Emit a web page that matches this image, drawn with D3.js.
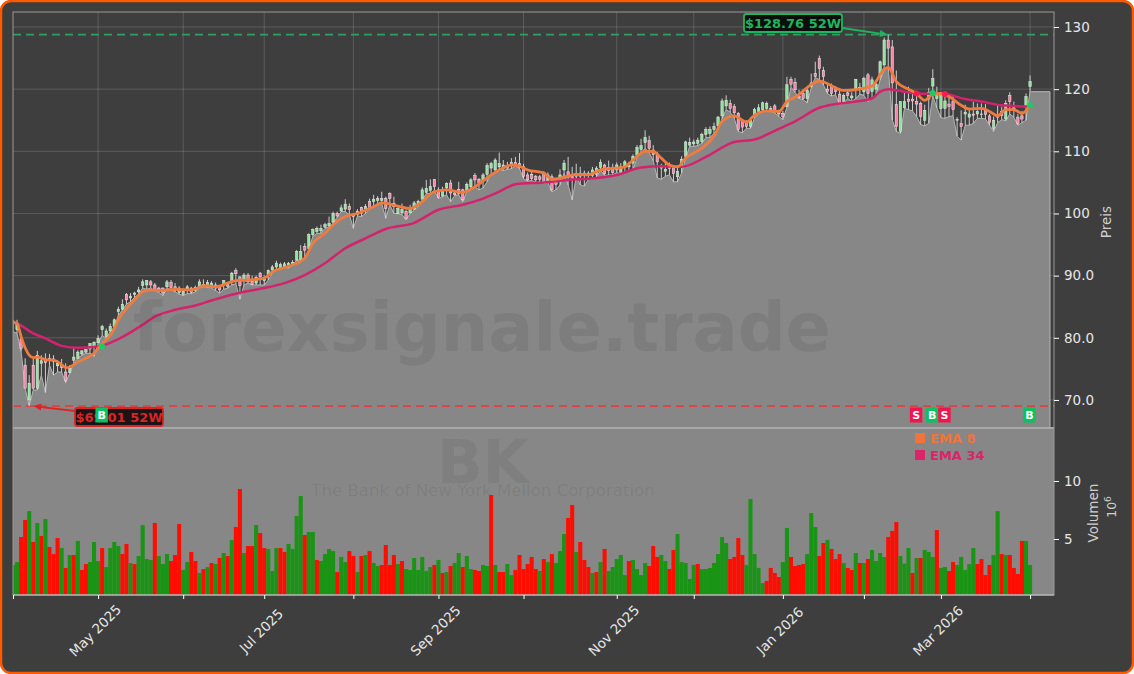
<!DOCTYPE html>
<html>
<head>
<meta charset="utf-8">
<script src="https://cdn.jsdelivr.net/npm/d3@7"></script>
<style>
  html, body { margin: 0; background: #fff; }
  svg { display: block; font-family: "DejaVu Sans", sans-serif; }
</style>
</head>
<body>
<svg width="1134" height="674"></svg>
<script>
// daily candles, April 2025 - April 2026 (one entry per trading day)
const opens = [
  82.7,81.3,79.8,75.6,70.0,75.6,71.9,75.9,76.4,76.4,76.6,75.5,75.6,74.5,74.4,76.4,76.7,77.4,77.7,78.2,
  78.6,79.2,81.3,80.2,81.1,81.8,84.2,84.6,87.0,86.4,87.0,87.4,88.4,88.5,89.0,88.5,88.0,88.0,88.2,88.9,
  88.2,87.3,87.0,87.7,88.0,87.6,88.2,88.3,88.3,88.2,88.5,88.2,88.5,88.6,89.0,90.8,89.8,89.2,90.1,89.1,
  88.8,90.4,89.2,90.0,90.9,91.4,91.3,91.4,91.5,91.7,92.5,92.6,94.7,94.4,96.6,97.1,97.2,97.8,98.0,98.6,
  100.0,100.4,100.7,101.1,99.8,99.8,101.0,100.6,101.9,101.9,102.1,102.1,102.4,103.2,101.6,100.0,100.1,100.3,100.1,100.7,
  101.4,102.3,103.4,103.7,105.5,103.8,102.8,104.1,104.9,103.3,103.9,103.8,103.7,104.3,106.1,105.5,105.3,106.3,107.3,107.0,
  107.5,107.2,107.7,107.7,108.2,108.0,107.5,106.2,106.3,106.0,105.9,106.6,105.2,105.9,105.4,105.5,107.0,106.7,106.0,106.4,
  106.5,106.5,106.2,106.1,106.3,107.4,107.8,107.4,107.4,107.0,106.6,107.5,107.5,108.1,109.3,110.3,111.4,111.7,110.2,109.5,
  107.7,106.8,107.8,107.4,105.9,107.4,109.2,111.0,111.2,111.3,111.6,112.7,112.9,113.5,114.1,115.7,117.3,117.7,117.2,116.1,
  115.0,114.8,114.0,115.8,116.4,116.7,116.9,116.9,117.3,116.0,116.1,117.2,121.6,121.1,118.9,119.3,118.5,120.4,122.5,124.9,
  123.0,120.0,120.5,120.3,119.2,118.0,119.4,118.6,120.0,120.0,119.6,122.3,119.6,120.0,122.0,123.9,127.9,126.8,117.5,113.2,
  117.0,118.4,118.4,118.0,117.7,115.0,118.4,120.5,118.5,116.9,116.9,117.6,118.0,115.1,114.5,116.0,115.5,116.0,116.0,116.0,
  116.6,115.7,113.7,115.5,116.4,115.2,119.0,117.0,115.5,115.7,117.4,120.4
];
const closes = [
  82.3,82.2,78.3,71.9,72.7,71.9,77.2,76.3,76.0,76.7,76.2,75.9,75.2,73.1,75.1,76.9,77.7,77.9,78.1,79.1,
  79.3,79.9,81.8,81.1,81.8,82.9,84.6,85.4,86.1,86.7,87.2,87.7,89.0,89.2,88.5,87.7,87.6,87.2,89.0,88.1,
  87.6,88.0,87.7,88.2,87.3,88.1,89.0,88.6,88.9,88.8,88.0,87.7,89.2,88.3,90.4,90.3,88.4,90.1,89.0,88.6,
  89.7,89.8,89.7,90.8,91.4,92.0,91.8,91.9,92.0,92.1,93.9,93.9,94.1,96.6,97.4,97.6,97.6,98.2,98.4,100.0,
  99.6,100.9,101.5,100.6,99.5,100.3,100.0,101.1,101.0,102.3,102.4,102.4,100.8,102.4,101.1,100.8,100.6,99.2,100.8,101.7,
  101.9,103.8,104.0,104.3,104.3,102.6,103.8,104.8,103.3,103.0,103.2,102.2,104.7,105.4,105.4,104.8,106.2,107.7,108.0,108.6,
  108.0,107.8,107.3,108.2,107.9,107.4,106.0,105.4,105.6,105.4,105.5,105.1,106.2,103.8,104.7,106.2,108.1,105.8,105.6,106.0,
  106.0,106.1,106.5,107.0,107.3,108.2,106.4,106.9,106.6,107.8,107.5,108.3,107.8,109.2,110.6,110.9,112.2,110.5,109.5,108.3,
  107.3,107.1,107.2,106.4,106.8,108.7,111.5,111.4,111.5,111.8,112.7,113.5,113.5,114.0,115.5,118.1,118.2,116.9,116.2,113.5,
  113.9,114.0,115.0,116.7,117.0,117.8,117.7,116.7,116.4,116.5,115.6,120.7,120.8,119.9,118.6,118.5,119.8,121.0,122.0,123.3,
  122.0,119.6,119.3,119.6,117.7,119.0,119.0,118.9,121.6,120.3,121.7,119.3,121.5,120.8,124.4,127.9,126.6,121.0,114.0,118.0,
  118.0,118.0,118.1,117.6,115.6,116.6,119.5,121.7,119.0,119.0,118.1,117.2,116.7,115.1,114.0,116.3,116.0,115.8,116.4,116.0,
  115.9,114.6,115.0,115.8,115.8,117.7,118.0,116.8,114.5,115.2,118.8,121.2
];
const highs = [
  82.9,82.9,80.7,76.7,74.0,76.7,77.9,77.2,77.5,77.4,77.2,76.4,76.6,75.9,75.6,78.4,78.0,78.0,78.2,79.1,
  79.4,80.4,82.1,81.5,82.3,83.1,85.0,86.2,87.2,87.2,87.4,88.2,89.4,89.3,89.3,88.8,88.2,88.1,89.3,89.3,
  88.8,88.3,87.9,88.5,88.2,88.4,89.4,89.4,89.3,89.1,88.9,88.4,89.3,88.9,90.6,91.2,89.9,90.4,90.4,90.0,
  90.0,90.6,90.0,91.0,91.7,92.4,92.1,92.2,92.2,92.5,94.1,94.9,95.2,96.8,97.6,97.9,98.2,98.5,99.5,100.3,
  100.3,101.4,102.3,101.6,100.0,100.7,101.1,101.5,102.4,103.0,102.8,103.5,102.7,103.4,102.7,101.1,101.6,100.6,101.4,102.0,
  102.2,104.2,105.4,105.5,105.5,104.2,104.3,105.0,105.4,103.6,105.1,104.0,105.0,105.7,106.5,105.7,106.5,108.1,108.3,108.9,
  109.8,108.6,108.3,108.9,109.1,109.7,108.0,106.6,106.7,106.2,106.2,106.8,106.6,106.3,105.8,107.1,108.6,109.1,107.5,108.0,
  107.5,106.9,106.8,107.5,107.6,108.7,108.0,108.5,108.0,108.2,108.1,108.6,108.3,109.5,111.0,112.0,113.4,112.5,111.0,109.9,
  108.0,108.2,108.2,107.8,107.8,109.2,111.7,112.2,111.9,112.2,113.0,113.9,114.0,114.6,115.7,118.5,119.0,118.3,117.6,116.3,
  115.2,115.0,115.5,117.0,117.6,118.0,118.0,117.3,117.6,116.7,116.5,122.0,122.0,121.8,119.9,120.0,120.4,122.5,124.4,125.4,
  123.6,121.0,120.9,120.5,119.7,119.3,120.0,119.5,121.6,121.0,122.0,122.6,122.0,121.4,124.6,128.3,128.76,127.9,123.0,118.0,
  119.5,120.4,119.5,119.6,118.0,117.5,120.2,123.2,120.4,119.5,119.0,119.0,119.0,115.5,116.6,117.5,117.0,118.0,117.7,117.7,
  117.6,116.0,115.6,117.5,117.2,118.2,119.5,118.0,116.0,116.5,119.3,122.2
];
const lows = [
  81.0,80.7,77.8,71.9,69.01,71.6,71.6,74.0,71.2,75.6,74.0,74.5,74.5,72.8,74.3,75.9,76.7,77.2,77.5,77.5,
  77.0,79.1,80.4,79.9,81.0,81.7,83.6,84.5,85.4,85.8,86.5,87.0,88.0,87.8,88.0,87.5,87.3,86.8,88.0,87.7,
  87.4,87.0,86.8,87.1,87.1,87.4,88.0,88.2,88.1,88.0,87.6,87.2,87.8,88.0,88.5,88.7,86.2,88.5,88.8,88.5,
  88.5,88.5,88.5,89.3,90.4,90.9,91.2,91.3,91.2,91.7,92.5,92.5,92.8,94.2,96.3,96.8,96.8,97.6,97.8,98.4,
  99.4,100.3,100.3,99.8,97.6,99.6,99.5,100.0,100.8,101.1,101.6,101.6,99.2,101.4,100.0,100.0,99.8,99.0,100.0,100.6,
  101.1,102.2,103.2,103.2,103.7,102.4,102.7,103.0,101.9,102.9,103.0,101.9,103.5,104.1,104.3,103.8,104.1,105.1,106.3,106.5,
  107.1,106.9,107.1,107.2,107.7,107.2,105.6,105.2,105.3,105.0,105.1,104.8,105.0,103.5,103.8,104.6,106.5,104.6,102.2,105.9,
  104.6,104.4,105.5,105.6,105.8,107.0,106.1,106.2,106.2,106.6,106.3,106.7,106.9,107.0,109.0,109.7,110.5,109.8,108.5,105.7,
  105.5,106.0,106.2,105.1,105.1,106.5,108.8,110.8,110.8,110.9,111.3,112.2,112.2,112.9,113.6,115.3,116.7,116.3,115.3,113.2,
  113.0,113.7,113.7,115.4,116.0,116.4,116.6,116.4,116.2,115.6,115.1,117.1,120.3,119.5,118.5,118.3,117.8,120.2,121.9,121.5,
  120.7,119.3,118.9,119.1,117.5,117.7,118.5,118.0,118.5,119.2,119.0,118.0,118.5,119.0,121.5,123.0,123.6,115.0,113.2,112.9,
  116.9,116.7,116.5,115.6,114.3,114.1,114.5,118.9,117.0,115.4,115.3,115.6,115.7,112.4,111.8,114.2,114.2,114.5,115.3,115.3,
  115.2,114.2,113.2,114.6,115.1,114.9,116.0,115.5,114.2,114.6,115.0,119.7
];
const areaTailPrice = 119.6;

const volumes = [
  2.76,3.01,5.17,6.64,7.41,4.74,6.38,5.26,6.72,4.31,3.70,5.08,4.22,2.50,3.62,3.62,4.83,2.33,2.84,3.01,
  4.74,3.10,4.22,2.58,4.22,4.74,4.39,3.70,4.57,2.93,2.84,3.53,6.20,3.27,3.19,6.38,3.53,2.84,3.70,3.10,
  3.62,6.29,2.33,3.01,3.88,3.10,2.07,2.41,2.58,2.93,2.84,3.36,3.79,3.53,4.91,6.03,9.31,3.79,4.39,4.39,
  6.20,5.51,4.22,4.14,2.24,4.22,4.22,3.88,4.57,4.14,6.98,8.70,5.34,5.60,5.60,3.19,3.10,3.70,4.14,3.96,
  2.15,3.45,3.01,3.96,3.53,2.15,3.53,3.62,3.96,2.93,2.67,2.76,4.48,2.76,3.62,2.84,3.10,2.41,2.33,3.36,
  2.33,3.45,2.24,2.58,2.76,3.19,2.07,2.15,2.67,2.93,3.79,2.58,3.53,2.41,2.33,2.24,2.76,2.67,8.79,2.76,
  2.15,2.15,2.84,1.89,2.33,3.62,2.41,2.84,3.45,2.41,2.24,3.27,3.01,3.70,2.93,3.96,5.43,6.81,7.93,3.88,
  4.74,3.19,2.58,2.07,2.15,3.01,4.14,2.24,2.58,3.27,3.62,1.89,3.10,3.19,2.41,1.89,2.93,2.67,4.39,3.45,
  3.62,3.10,2.41,4.05,5.43,3.01,2.93,1.55,2.76,2.84,2.41,2.41,2.50,2.93,3.70,5.17,4.65,3.27,3.45,5.08,
  3.62,2.76,8.45,3.70,2.50,1.20,1.38,2.50,2.07,1.72,3.01,5.95,3.45,2.67,2.76,2.84,3.70,7.24,6.03,3.53,
  4.65,4.91,4.14,3.27,3.70,2.93,2.50,2.33,3.79,2.93,2.93,3.27,4.05,3.10,3.79,3.45,5.17,5.69,6.46,3.53,
  2.87,4.22,2.07,3.36,3.36,4.05,3.88,3.45,5.77,2.50,2.58,2.24,3.01,2.76,3.45,2.33,2.84,4.22,2.84,3.27,
  1.89,2.76,3.62,7.41,3.70,3.62,3.62,2.50,1.98,4.83,4.83,2.76
];
const volumeSides = (
  "GG" +
  "RRGRGRGRRR" + "GRGRGRRGGG" + "RGGGGRRGRG" + "GGGRGGGRRR" + "GGRRGRGRGR" +
  "GRGRRGRRGR" + "RGGGRRGGGG" + "RGGRGGGGRG" + "GRRGRGRGGR" + "RRRGRGGGGG" +
  "GGRGRGRGGR" + "GGRRGGRGRR" + "GGRRRRRRGR" + "GRGGGRRGRR" + "RGRGRGGGGG" +
  "RGGGGRRRGG" + "RRGGGGGRGG" + "GGGGGRRRRG" + "GGGGRRRRGG" + "RRRRGGGRRG" +
  "RRRGRRGRGR" + "GGGGRRRGGG" + "RGRGGGRGGR" + "RGGGGGRRRR" + "GGRGRRRRGG"
).split("");

// EMA readings as [trading day, price]
const ema8Days = [0,1,2,3,4,5,6,8,10,12,13,14,16,18,20,21,22,24,25,26,28,30,32,34,36,40,44,46,47,50,53,55,58,62,64,68,72,74,77,79,82,85,89,91,95,98,100,104,107,111,114,118,120,123,125,127,131,133,137,139,142,145,151,153,156,158,160,162,164,166,170,173,175,178,181,183,186,189,191,193,199,205,212,215,216,218,221,223,225,227,229,231,234,236,239,241,243,245,247,249,251];
const ema8 = [82.5,82.3,80.2,78.4,77.2,76.8,76.9,76.5,76.4,75.7,75.2,75.3,76.1,76.7,77.5,78.3,79.1,80.4,81.5,82.9,84.7,86.1,87.4,87.7,87.6,87.8,87.7,88.1,88.4,88.2,88.8,89.2,89.3,89.6,90.6,91.5,92.8,95.2,96.8,98.2,99.5,100.0,101.1,101.7,101.2,100.8,101.4,103.5,103.8,103.4,104.3,106.2,107.0,107.8,107.6,107.0,106.5,105.5,106.0,106.3,106.2,107.0,107.5,108.6,110.0,110.0,108.9,107.8,107.5,108.9,110.5,112.4,114.8,115.7,114.7,115.8,116.5,116.4,118.0,118.7,121.3,119.8,120.5,123.2,123.5,121.2,120.0,119.3,118.2,119.2,119.3,118.8,117.4,116.8,116.9,116.4,115.7,116.7,116.7,116.1,117.4];
const ema34Days = [0,1,5,8,12,16,21,26,32,35,40,45,49,57,62,67,72,77,82,87,92,99,105,111,116,120,124,131,137,142,149,155,160,165,171,178,183,189,193,199,203,208,212,214,216,219,223,230,235,239,244,251];
const ema34 = [82.5,82.3,80.7,79.9,78.7,78.4,78.6,79.8,82.1,83.4,84.5,85.2,86.0,87.4,88.0,88.8,90.1,92.0,94.4,96.0,97.5,98.5,100.6,101.4,102.4,103.5,104.7,105.0,105.4,105.6,106.2,107.4,107.6,107.5,109.1,111.5,111.9,113.6,114.8,117.0,117.6,118.0,118.5,119.6,120.0,119.7,119.3,119.2,118.4,118.0,117.4,117.2];

const monthDays = [0,21,42,62,84,105,126,149,168,190,210,229,251];
const monthLabels = ["","May 2025","","Jul 2025","","Sep 2025","","Nov 2025","","Jan 2026","","Mar 2026",""];
const priceTicks = [70,80,90,100,110,120,130];
const priceLabels = ["70.0","80.0","90.0","100","110","120","130"];
const volumeTicks = [5,10];

const signalDays = [22,223,227,230,251];
const signalSides = ["B","S","B","S","B"];
const signalPrices = [78.6,119.3,119.4,119.2,117.4];

const high52 = 128.76, high52Day = 215.9;
const low52 = 69.01, low52Day = 5;

const svg = d3.select("svg");
const width = 1134, height = 674;
const left = 13, right = 1054, mainTop = 12, mainBottom = 428, volBottom = 595;
const dayStep = 4.052;

const x = d3.scaleLinear().domain([0, (right - left) / dayStep]).range([left, right]);
const y = d3.scaleLinear().domain([65.49, 132.41]).range([mainBottom, mainTop]);
const yVol = d3.scaleLinear().domain([0.17, 14.57]).range([volBottom, mainBottom]);

const textColor = "#e6e6e6";
const upColor = "#19cc63", downColor = "#ff1a4f";

svg.append("rect")
  .attr("x", 1).attr("y", 1).attr("width", width - 2).attr("height", height - 2)
  .attr("rx", 10)
  .attr("fill", "#3e3e3e")
  .attr("stroke", "#ff5a00")
  .attr("stroke-width", 2.5);

const defs = svg.append("defs");
defs.append("clipPath").attr("id", "clip-main").append("rect")
  .attr("x", left).attr("y", mainTop).attr("width", right - left).attr("height", mainBottom - mainTop);
defs.append("clipPath").attr("id", "clip-vol").append("rect")
  .attr("x", left).attr("y", mainBottom).attr("width", right - left).attr("height", volBottom - mainBottom);

// grid
const grid = svg.append("g").attr("stroke", "#fff").attr("stroke-opacity", 0.2).attr("stroke-width", 0.8);
grid.selectAll("line.h").data(priceTicks).join("line").attr("class", "h")
  .attr("x1", left).attr("x2", right)
  .attr("y1", d => y(d)).attr("y2", d => y(d));
grid.selectAll("line.v").data(monthDays.slice(1)).join("line").attr("class", "v")
  .attr("x1", d => x(d)).attr("x2", d => x(d))
  .attr("y1", mainTop).attr("y2", mainBottom);

const main = svg.append("g").attr("clip-path", "url(#clip-main)");

// grey area under the daily lows, runs on to the right side of the frame
const areaData = lows.map((v, i) => [i, v]);
areaData.push([251.4, areaTailPrice], [(1050 - left) / dayStep, areaTailPrice]);
main.append("path")
  .datum(areaData)
  .attr("fill", "#878787")
  .attr("d", d3.area().x(d => x(d[0])).y0(mainBottom).y1(d => y(d[1])));
main.append("path")
  .datum(areaData.concat([[(1050 - left) / dayStep, 65.49]]))
  .attr("fill", "none")
  .attr("stroke", "#b4b4b4")
  .attr("stroke-width", 1)
  .attr("d", d3.line().x(d => x(d[0])).y(d => y(d[1])));

// watermark behind the candles
svg.append("text")
  .attr("x", 482).attr("y", 351)
  .attr("text-anchor", "middle")
  .attr("font-size", 67).attr("font-weight", "bold")
  .attr("fill", "#000").attr("fill-opacity", 0.07)
  .text("forexsignale.trade");

// dashed 52 week levels
main.append("line")
  .attr("x1", left).attr("x2", right).attr("y1", y(high52)).attr("y2", y(high52))
  .attr("stroke", "#2f9e5f").attr("stroke-width", 1.8).attr("stroke-dasharray", "8,5");
main.append("line")
  .attr("x1", left).attr("x2", right).attr("y1", y(low52)).attr("y2", y(low52))
  .attr("stroke", "#d64545").attr("stroke-width", 1.8).attr("stroke-dasharray", "8,5");

// candles
const candle = main.append("g").selectAll("g")
  .data(opens.map((o, i) => ({ i, o, c: closes[i], h: highs[i], l: lows[i] })))
  .join("g");
candle.append("line")
  .attr("x1", d => x(d.i)).attr("x2", d => x(d.i))
  .attr("y1", d => y(d.h)).attr("y2", d => y(d.l))
  .attr("stroke", "#dcdcdc").attr("stroke-width", 0.9);
candle.append("rect")
  .attr("x", d => x(d.i) - 1.2)
  .attr("width", 2.4)
  .attr("y", d => y(Math.max(d.o, d.c)))
  .attr("height", d => Math.max(0.6, Math.abs(y(d.o) - y(d.c))))
  .attr("fill", d => d.c >= d.o ? "#8fe39a" : "#ff7fa5")
  .attr("stroke", "#eeeeee").attr("stroke-width", 0.5);

// EMA lines
const emaLine = d3.line().x(d => x(d[0])).y(d => y(d[1])).curve(d3.curveMonotoneX);
main.append("path")
  .datum(ema34Days.map((d, i) => [d, ema34[i]]))
  .attr("fill", "none").attr("stroke", "#d3236d").attr("stroke-width", 2.5)
  .attr("d", emaLine);
main.append("path")
  .datum(ema8Days.map((d, i) => [d, ema8[i]]))
  .attr("fill", "none").attr("stroke", "#ee7b3f").attr("stroke-width", 2.8)
  .attr("d", emaLine);

// signal dots on the price
main.selectAll("circle.signal")
  .data(signalDays.map((d, i) => ({ d, side: signalSides[i], p: signalPrices[i] })))
  .join("circle")
  .attr("class", "signal")
  .attr("cx", d => x(d.d)).attr("cy", d => y(d.p)).attr("r", 3)
  .attr("fill", d => d.side === "B" ? upColor : downColor);

// 52 week notes with their arrows
function note(value, day, color, boxFill, boxX, boxY, boxW, fromX, fromY) {
  const tipX = x(day), tipY = y(value);
  const a = Math.atan2(tipY - fromY, tipX - fromX);
  const g = svg.append("g");
  g.append("line")
    .attr("x1", fromX).attr("y1", fromY)
    .attr("x2", tipX - 6 * Math.cos(a)).attr("y2", tipY - 6 * Math.sin(a))
    .attr("stroke", color).attr("stroke-width", 1.8);
  g.append("polygon")
    .attr("fill", color)
    .attr("points", [
      [tipX, tipY],
      [tipX - 8 * Math.cos(a) - 3.5 * Math.sin(a), tipY - 8 * Math.sin(a) + 3.5 * Math.cos(a)],
      [tipX - 8 * Math.cos(a) + 3.5 * Math.sin(a), tipY - 8 * Math.sin(a) - 3.5 * Math.cos(a)]
    ].map(p => p.join(",")).join(" "));
  g.append("rect")
    .attr("x", boxX).attr("y", boxY).attr("width", boxW).attr("height", 18).attr("rx", 2.5)
    .attr("fill", boxFill).attr("stroke", color).attr("stroke-width", 1.8);
  g.append("text")
    .attr("x", boxX + boxW / 2).attr("y", boxY + 13.5)
    .attr("text-anchor", "middle")
    .attr("font-size", 13).attr("font-weight", "bold")
    .attr("fill", color)
    .text(`$${value.toFixed(2)} 52W`);
}
note(high52, high52Day, "#21b35f", "#0b0f0c", 744, 14, 98, 842, 28);
note(low52, low52Day, "#d92525", "#1c1414", 75, 408, 88, 75, 411);

// B and S badges along the bottom of the price panel
const badge = svg.append("g").selectAll("g")
  .data(signalDays.map((d, i) => ({ d, side: signalSides[i] })))
  .join("g")
  .attr("transform", d => `translate(${x(d.d) - 0.5},415)`);
badge.append("rect")
  .attr("x", -6.2).attr("y", -7.5).attr("width", 12.4).attr("height", 15)
  .attr("fill", d => d.side === "B" ? "#0fc060" : "#f0144f");
badge.append("text")
  .attr("text-anchor", "middle").attr("y", 4)
  .attr("font-size", 11).attr("font-weight", "bold").attr("fill", "#fff")
  .text(d => d.side);

// volume panel
svg.append("rect")
  .attr("x", left).attr("y", mainBottom).attr("width", right - left).attr("height", volBottom - mainBottom)
  .attr("fill", "#878787");
svg.append("line")
  .attr("x1", left).attr("x2", right).attr("y1", mainBottom).attr("y2", mainBottom)
  .attr("stroke", "#a8a8a8").attr("stroke-width", 2);

svg.append("text")
  .attr("x", 483).attr("y", 483)
  .attr("text-anchor", "middle")
  .attr("font-size", 60).attr("font-weight", "bold")
  .attr("fill", "#000").attr("fill-opacity", 0.055)
  .text("BK");
svg.append("text")
  .attr("x", 483).attr("y", 496)
  .attr("text-anchor", "middle")
  .attr("font-size", 16.6)
  .attr("fill", "#000").attr("fill-opacity", 0.07)
  .text("The Bank of New York Mellon Corporation");

svg.append("g").attr("clip-path", "url(#clip-vol)")
  .selectAll("rect")
  .data(volumes)
  .join("rect")
  .attr("x", (d, i) => x(i) - dayStep / 2)
  .attr("width", dayStep)
  .attr("y", d => yVol(d))
  .attr("height", d => volBottom - yVol(d))
  .attr("fill", (d, i) => volumeSides[i] === "G" ? "#1a9415" : "#ff0d00");

// legend
const legendKeys = ["EMA 8", "EMA 34"];
const legendColors = ["#f0743a", "#dc2468"];
const legend = svg.append("g").selectAll("g")
  .data(legendKeys)
  .join("g")
  .attr("transform", (d, i) => `translate(915,${438 + i * 17})`);
legend.append("rect")
  .attr("y", -5).attr("width", 10).attr("height", 10)
  .attr("fill", (d, i) => legendColors[i]);
legend.append("text")
  .attr("x", 15).attr("y", 4.5)
  .attr("font-size", 13).attr("font-weight", "bold")
  .attr("fill", (d, i) => legendColors[i])
  .text(d => d);

// frame
svg.append("rect")
  .attr("x", left).attr("y", mainTop).attr("width", right - left).attr("height", volBottom - mainTop)
  .attr("fill", "none").attr("stroke", "#9a9a9a").attr("stroke-width", 1);
svg.append("line")
  .attr("x1", left).attr("x2", right).attr("y1", volBottom).attr("y2", volBottom)
  .attr("stroke", "#c8c8c8").attr("stroke-width", 1.2);

// axes
function styleAxis(g) {
  g.select(".domain").remove();
  g.selectAll(".tick line").attr("stroke", "#fff").attr("stroke-width", 1);
  g.selectAll(".tick text").attr("fill", textColor).attr("font-size", 13.5)
    .attr("font-family", "DejaVu Sans, sans-serif");
}
svg.append("g")
  .attr("transform", `translate(${right},0)`)
  .call(d3.axisRight(y).tickValues(priceTicks).tickSize(5).tickPadding(5)
    .tickFormat(d => priceLabels[priceTicks.indexOf(d)]))
  .call(styleAxis);
svg.append("g")
  .attr("transform", `translate(${right},0)`)
  .call(d3.axisRight(yVol).tickValues(volumeTicks).tickSize(5).tickPadding(5))
  .call(styleAxis);
svg.append("g")
  .attr("transform", `translate(0,${volBottom})`)
  .call(d3.axisBottom(x).tickValues(monthDays).tickSize(4)
    .tickFormat(d => monthLabels[monthDays.indexOf(d)]))
  .call(styleAxis)
  .selectAll(".tick text")
  .attr("text-anchor", "middle")
  .attr("y", 0).attr("dy", 0)
  .attr("transform", "translate(0,39) rotate(-45)");

// axis titles
svg.append("text")
  .attr("transform", "translate(1111,222) rotate(-90)")
  .attr("text-anchor", "middle").attr("font-size", 13.5).attr("fill", "#cfcfcf")
  .text("Preis");
svg.append("text")
  .attr("transform", "translate(1098,513) rotate(-90)")
  .attr("text-anchor", "middle").attr("font-size", 13.5).attr("fill", "#cfcfcf")
  .text("Volumen");
const unit = svg.append("text")
  .attr("transform", "translate(1116,507) rotate(-90)")
  .attr("text-anchor", "middle").attr("font-size", 12.5).attr("fill", "#cfcfcf");
unit.append("tspan").text("10");
unit.append("tspan").attr("dy", -5).attr("font-size", 9).text("6");
</script>
</body>
</html>
